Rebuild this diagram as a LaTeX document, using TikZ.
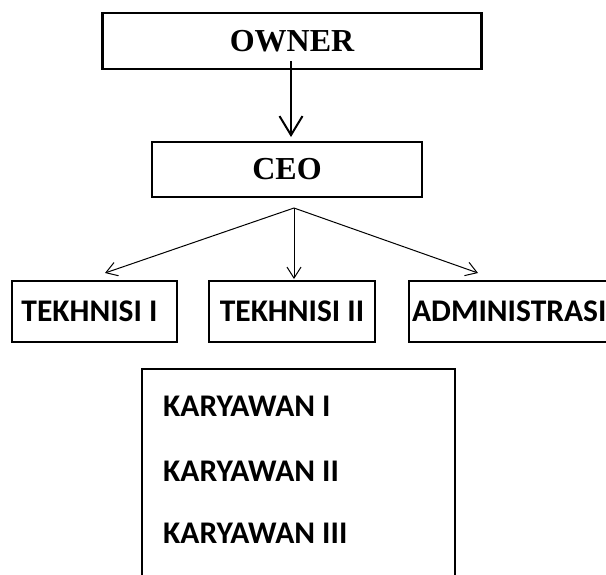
\documentclass[tikz,border=0pt]{standalone}
\usepackage{fontspec}
\setmainfont{Liberation Serif}
\newfontfamily\calfont{Carlito}
\usetikzlibrary{arrows.meta}
\begin{document}
\begin{tikzpicture}[x=1pt,y=-1pt,
  box/.style={draw=black,line width=2.2pt,inner sep=0pt,fill=white},
  serifbold/.style={font=\fontsize{32}{36}\selectfont\bfseries},
  sansbold/.style={font=\calfont\fontsize{31.5}{36}\selectfont\bfseries},
  thickarrow/.style={line width=2pt,-{Straight Barb[length=19pt,width=23pt]}},
  thinarrow/.style={line width=1pt,-{Straight Barb[length=11pt,width=14pt]}}]
\useasboundingbox (0,0) rectangle (606,574);
\clip (0,0) rectangle (606,574);
\fill[white] (0,0) rectangle (606,574);
% boxes
\node[box,serifbold,minimum width=379pt,minimum height=56pt] (owner) at (292,41) {OWNER};
\node[box,serifbold,minimum width=270pt,minimum height=55pt] (ceo) at (287,169.5) {CEO};
\node[box,sansbold,minimum width=165pt,minimum height=61pt] (t1) at (94.5,311.5) {TEKHNISI I\hspace*{10pt}};
\node[box,sansbold,minimum width=166pt,minimum height=61pt] (t2) at (292,311.5) {TEKHNISI II};
\node[box,sansbold,minimum height=61pt,inner xsep=3pt,anchor=west] (adm) at (408,311.5) {ADMINISTRASI};
\node[box,minimum width=313pt,minimum height=240pt] (kar) at (298.5,489) {};
\node[sansbold,anchor=west,inner sep=0pt] (k1) at (163,406) {KARYAWAN I};
\node[sansbold,anchor=west,inner sep=0pt] (k2) at (163,471) {KARYAWAN II};
\node[sansbold,anchor=west,inner sep=0pt] (k3) at (163,533) {KARYAWAN III};
% connectors
\coordinate (os) at (291,61);
\coordinate (ot) at (291,137);
\draw[thickarrow] (os) -- (ot);
\coordinate (apex) at (294,208);
\coordinate (e1) at (105,273);
\coordinate (e2) at (294,279);
\coordinate (e3) at (478,273);
\draw[thinarrow] (apex) -- (e1);
\draw[thinarrow] (apex) -- (e2);
\draw[thinarrow] (apex) -- (e3);
\end{tikzpicture}
\end{document}
